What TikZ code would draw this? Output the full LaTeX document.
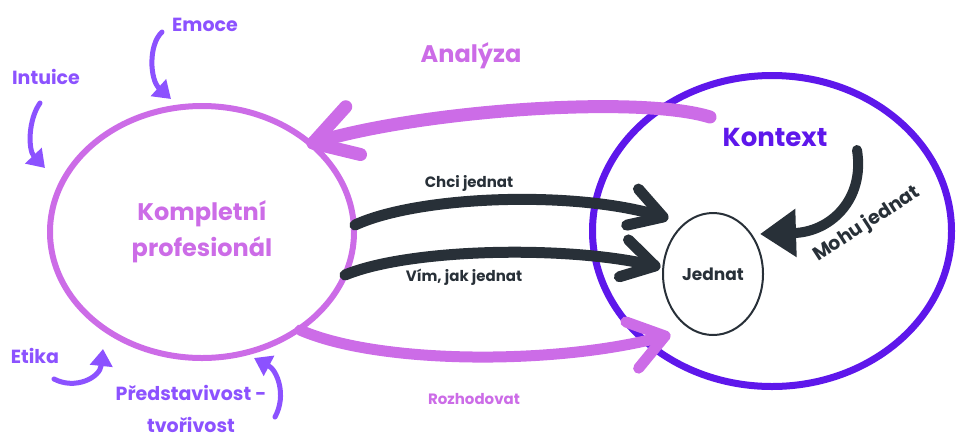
\documentclass[tikz,border=0pt]{standalone}
\usepackage{fontspec}
\setmainfont{Poppins}
\usetikzlibrary{arrows.meta,shapes.geometric,decorations.markings}

\definecolor{pinkline}{HTML}{CC6CE7}
\definecolor{violetring}{HTML}{5E17EB}
\definecolor{violettext}{HTML}{8C52FF}
\definecolor{darkline}{HTML}{283038}

\tikzset{
  ring/.style={ellipse, draw, inner sep=0pt},
  barbed/.style n args={3}{line width=#1, line cap=round, postaction={decorate,
    decoration={markings, mark=at position 1 with
      {\draw[line width=#1, line cap=round, line join=round] (-#2,-#3) -- (0,0) -- (-#2,#3);}}}},
  sidearrow/.style={color=violettext, line width=5pt, line cap=round,
    -{Triangle[length=17pt,width=22pt]}},
  sidelabel/.style={text=violettext, font=\fontsize{19}{32}\selectfont\bfseries},
  pathlabel/.style={text=darkline, font=\fontsize{15}{20}\selectfont\bfseries}
}

\begin{document}
\begin{tikzpicture}[x=1pt, y=-1pt]
    \useasboundingbox (0,0) rectangle (958,432);

    % the two main rings
    \node[ring, draw=pinkline, line width=6pt, minimum width=304pt, minimum height=252pt,
          text=pinkline, align=center, font=\fontsize{24}{36}\selectfont\bfseries]
          (pro) at (202,232) {Kompletní\\profesionál};
    \node[ring, draw=violetring, line width=7pt, minimum width=359pt, minimum height=311pt]
          (ctx) at (772,231) {};
    \node[ring, draw=darkline, line width=2pt, minimum width=100pt, minimum height=122pt,
          text=darkline, font=\fontsize{17}{20}\selectfont\bfseries]
          (act) at (713,274) {Jednat};

    \node[text=violetring, font=\fontsize{26}{30}\selectfont\bfseries] (kontext) at (775,137) {Kontext};
    \node[text=pinkline, font=\fontsize{24}{30}\selectfont\bfseries] (analyza) at (471,56) {Analýza};
    \node[text=pinkline, font=\fontsize{15}{20}\selectfont\bfseries] (rozhod) at (474,399) {Rozhodovat};
    \node[pathlabel] (chci) at (469,183) {Chci jednat};
    \node[pathlabel] (vim) at (464,277) {Vím, jak jednat};
    \node[pathlabel, font=\fontsize{19}{22}\selectfont\bfseries, rotate=33] (mohu) at (867,224) {Mohu jednat};

    % inputs round the professional
    \node[sidelabel] (emoce) at (205,25) {Emoce};
    \node[sidelabel] (intuice) at (46,77) {Intuice};
    \node[sidelabel] (etika) at (35,356) {Etika};
    \node[sidelabel, align=center] (tvor) at (191,409) {Představivost -\\tvořivost};

    \coordinate (emoceA) at (162,32);   \coordinate (emoceB) at (171,99);
    \coordinate (intuA) at (40,103);    \coordinate (intuB) at (45,168);
    \coordinate (etikaA) at (54,379);   \coordinate (etikaB) at (103,349);
    \coordinate (tvorA) at (275,417);   \coordinate (tvorB) at (254,358);

    \draw[sidearrow] (emoceA) .. controls (148,45) and (150,80) .. (emoceB);
    \draw[sidearrow] (intuA) .. controls (28,120) and (28,150) .. (intuB);
    \draw[sidearrow] (etikaA) .. controls (75,390) and (100,378) .. (etikaB);
    \draw[sidearrow] (tvorA) .. controls (287,395) and (277,370) .. (tvorB);

    % big connectors
    \coordinate (anaA) at (710,117);  \coordinate (anaB) at (313,143);
    \coordinate (chciA) at (355,225); \coordinate (chciB) at (663,217);
    \coordinate (vimA) at (345,275);  \coordinate (vimB) at (655,266);
    \coordinate (rozA) at (300,330);  \coordinate (rozB) at (665,336);
    \coordinate (mohuA) at (857,150); \coordinate (mohuB) at (760,234);

    \draw[barbed={13pt}{42pt}{25pt}, pinkline] (anaA) .. controls (640,95) and (420,110) .. (anaB);
    \draw[barbed={11pt}{32pt}{19pt}, darkline] (chciA) .. controls (420,195) and (580,190) .. (chciB);
    \draw[barbed={11pt}{32pt}{19pt}, darkline] (vimA) .. controls (410,248) and (570,245) .. (vimB);
    \draw[barbed={11pt}{34pt}{24pt}, pinkline] (rozA) .. controls (380,365) and (560,365) .. (rozB);
    \draw[darkline, line width=10pt, line cap=round, -{Triangle[length=36pt,width=46pt]}]
        (mohuA) .. controls (865,200) and (830,232) .. (mohuB);
\end{tikzpicture}
\end{document}
